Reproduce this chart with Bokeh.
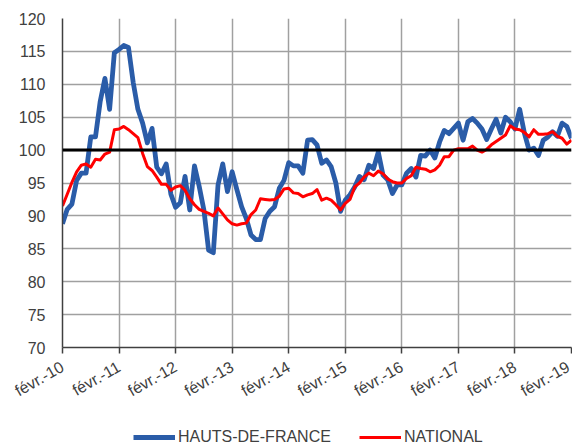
import math
from bokeh.plotting import figure
from bokeh.layouts import column
from bokeh.models import FixedTicker, Span, Legend, LegendItem, Grid
from bokeh.embed import file_html
from bokeh.resources import INLINE

months = list(range(109))
tick_positions = [0, 12, 24, 36, 48, 60, 72, 84, 96, 108]
tick_labels = ["févr.-10", "févr.-11", "févr.-12", "févr.-13", "févr.-14",
               "févr.-15", "févr.-16", "févr.-17", "févr.-18", "févr.-19"]
y_ticks = [70, 75, 80, 85, 90, 95, 100, 105, 110, 115, 120]

hauts_de_france = [
    88.8, 91.0, 91.8, 95.4, 96.5, 96.5, 102.0, 102.0, 107.4, 110.9, 106.2, 114.8,
    115.3, 115.9, 115.6, 110.3, 106.2, 104.1, 101.1, 103.3, 97.4, 96.4, 97.9, 93.3,
    91.3, 92.0, 96.0, 90.9, 97.6, 94.5, 90.9, 84.8, 84.4, 94.7, 97.9, 93.7,
    96.7, 94.0, 91.4, 89.6, 87.1, 86.4, 86.4, 89.6, 90.7, 91.4, 94.2, 95.4,
    98.1, 97.6, 97.6, 96.5, 101.5, 101.6, 100.8, 98.0, 98.5, 97.5, 95.0, 90.7,
    92.4, 93.2, 94.4, 96.0, 95.5, 97.7, 97.2, 99.7, 96.2, 95.5, 93.4, 94.7,
    94.7, 96.5, 97.2, 95.9, 99.2, 99.1, 100.0, 98.8, 101.2, 103.0, 102.5, 103.3,
    104.1, 101.5, 104.3, 104.8, 104.1, 103.2, 101.6, 103.2, 104.7, 102.6, 105.0, 104.3,
    103.2, 106.2, 102.6, 100.0, 100.3, 99.2, 101.5, 102.0, 102.8, 102.1, 104.1, 103.6,
    101.8,
]

national = [
    91.5, 93.3, 95.1, 96.7, 97.7, 97.9, 97.4, 98.6, 98.5, 99.4, 99.7, 103.1,
    103.2, 103.6, 103.1, 102.5, 101.9, 99.5, 97.5, 96.9, 95.9, 94.8, 94.8, 93.9,
    94.4, 94.6, 93.9, 92.6, 91.7, 91.0, 90.7, 90.4, 90.0, 91.2, 90.3, 89.4,
    88.8, 88.6, 88.8, 88.9, 90.2, 90.9, 92.6, 92.5, 92.4, 92.5, 93.0, 94.1,
    94.2, 93.5, 93.4, 92.9, 93.2, 93.4, 94.0, 92.4, 92.7, 92.4, 91.7, 90.9,
    91.9, 92.5, 94.4, 95.0, 95.9, 96.5, 96.1, 96.8, 96.4, 95.6, 95.2, 95.0,
    95.0, 95.7, 96.1, 97.4, 97.2, 97.1, 96.7, 97.0, 97.7, 99.0, 99.0, 100.0,
    100.2, 100.2, 100.2, 100.6, 100.0, 99.7, 100.1, 100.8, 101.3, 101.8, 102.3, 103.7,
    103.2, 103.1, 102.7, 102.0, 103.1, 102.4, 102.4, 102.5, 102.8, 102.1, 101.8, 100.9,
    101.5,
]

series_names = ["HAUTS-DE-FRANCE", "NATIONAL"]
series_colors = ["#2a5ca8", "#ff0000"]
series_widths = [4.8, 3]
reference_level = 100

FONT = "Liberation Sans"

p = figure(width=572, height=426, output_backend="svg", toolbar_location=None,
           x_range=(0, 108), y_range=(70, 120),
           min_border_left=62, min_border_right=1, min_border_top=18, min_border_bottom=79)
p.outline_line_color = None
p.background_fill_color = "white"
p.border_fill_color = "white"

xticker = FixedTicker(ticks=tick_positions)
yticker = FixedTicker(ticks=y_ticks)

# x axis
p.xaxis.ticker = xticker
p.xaxis.major_label_overrides = {t: l for t, l in zip(tick_positions, tick_labels)}
p.xaxis.major_label_orientation = 0.52
p.xaxis.major_label_text_font = FONT
p.xaxis.major_label_text_font_size = "16px"
p.xaxis.major_label_text_color = "#404040"
p.xaxis.axis_line_color = "#404040"
p.xaxis.axis_line_width = 1.5
p.xaxis.major_tick_line_color = "#404040"
p.xaxis.major_tick_line_width = 1.5
p.xaxis.major_tick_out = 6
p.xaxis.major_tick_in = 0
p.xaxis.minor_tick_line_color = None
p.xaxis.major_label_standoff = 12

# y axis
p.yaxis.ticker = yticker
p.yaxis.major_label_text_font = FONT
p.yaxis.major_label_text_font_size = "16px"
p.yaxis.major_label_text_color = "#404040"
p.yaxis.axis_line_color = "#404040"
p.yaxis.axis_line_width = 1.5
p.yaxis.major_tick_line_color = None
p.yaxis.minor_tick_line_color = None
p.yaxis.major_label_standoff = 11

# grids
p.xgrid.visible = False
p.ygrid.visible = False
p.add_layout(Grid(dimension=0, ticker=xticker, grid_line_color="#a0a0a0", grid_line_width=1.5))
p.add_layout(Grid(dimension=1, ticker=yticker, grid_line_color="#a0a0a0", grid_line_width=1.5))

p.line(months, hauts_de_france, line_color=series_colors[0], line_width=series_widths[0], line_join="round")
p.line(months, national, line_color=series_colors[1], line_width=series_widths[1], line_join="round")

p.add_layout(Span(location=reference_level, dimension="width", line_color="black", line_width=3))

# legend strip below the chart (series drawn out of its visible range, only the legend shows)
leg = figure(width=572, height=20, output_backend="svg", toolbar_location=None,
             x_range=(0, 1), y_range=(0, 1), x_axis_type=None, y_axis_type=None,
             min_border=0)
leg.outline_line_color = None
leg.grid.visible = False
lr1 = leg.line(months, hauts_de_france, line_color=series_colors[0], line_width=series_widths[0])
lr2 = leg.line(months, national, line_color=series_colors[1], line_width=series_widths[1])
legend = Legend(items=[LegendItem(label=series_names[0], renderers=[lr1]),
                       LegendItem(label=series_names[1], renderers=[lr2])],
                orientation="horizontal", location=(71, 0),
                label_text_font=FONT, label_text_font_size="16px",
                label_text_color="#404040",
                glyph_width=42, glyph_height=14, label_standoff=3, spacing=28,
                border_line_color=None, background_fill_alpha=0,
                padding=0, margin=0)
leg.add_layout(legend, "center")

layout = column(p, leg, spacing=0)
open("out.html", "w").write(file_html(layout, INLINE))
